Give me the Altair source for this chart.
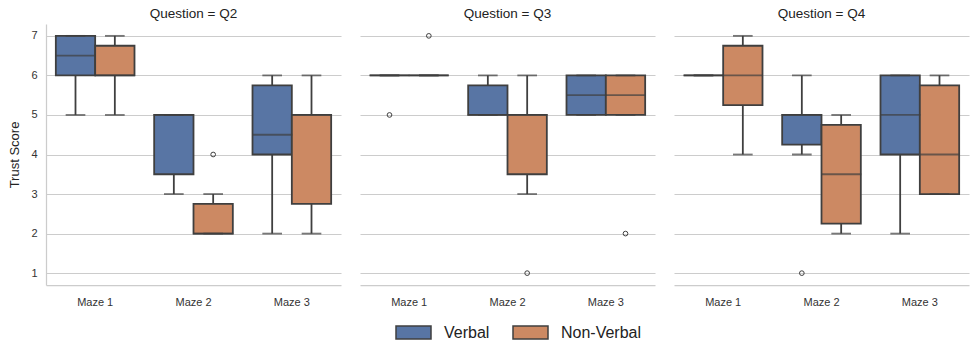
import altair as alt
import pandas as pd

# ---- data ----
questions = ["Q2"] * 6 + ["Q3"] * 6 + ["Q4"] * 6
mazes = ["Maze 1", "Maze 1", "Maze 2", "Maze 2", "Maze 3", "Maze 3"] * 3
groups = ["Verbal", "Non-Verbal"] * 9
q1 = [6, 6, 3.5, 2, 4, 2.75, 6, 6, 5, 3.5, 5, 5, 6, 5.25, 4.25, 2.25, 4, 3]
med = [6.5, 6, 5, 2, 4.5, 5, 6, 6, 5, 5, 5.5, 5.5, 6, 6, 5, 3.5, 5, 4]
q3 = [7, 6.75, 5, 2.75, 5.75, 5, 6, 6, 5.75, 5, 6, 6, 6, 6.75, 5, 4.75, 6, 5.75]
lo = [5, 5, 3, 2, 2, 2, 6, 6, 5, 3, 5, 5, 6, 4, 4, 2, 2, 3]
hi = [7, 7, 5, 3, 6, 6, 6, 6, 6, 6, 6, 6, 6, 7, 6, 5, 6, 6]
outlier = [None, None, None, 4, None, None, 5, 7, None, 1, None, 2,
           None, None, 1, None, None, None]

group_order = ["Verbal", "Non-Verbal"]
maze_order = ["Maze 1", "Maze 2", "Maze 3"]
yticks = [1, 2, 3, 4, 5, 6, 7]

df = pd.DataFrame({
    "question": questions, "maze": mazes, "group": groups,
    "q1": q1, "med": med, "q3": q3, "lo": lo, "hi": hi, "outlier": outlier,
})

BLUE = "#5875a4"
ORANGE = "#cc8963"
LINE = "#3f3f3f"
LW = 1.8
PW = 295
PH = 261
BOXW = PW / 3 * 0.4

x = alt.X("maze:N", sort=maze_order,
          scale=alt.Scale(paddingInner=0, paddingOuter=0),
          axis=alt.Axis(title=None, labelAngle=0, labelFontSize=11,
                        labelColor="#333333", labelPadding=11, ticks=False,
                        domainColor="#cccccc", domainWidth=1.25))
xo = alt.XOffset("group:N", sort=group_order,
                 scale=alt.Scale(domain=group_order, paddingInner=0,
                                 paddingOuter=0.25))
yscale = alt.Scale(domain=[0.7, 7.3], nice=False, zero=False)


def Y(field):
    return alt.Y(f"{field}:Q", scale=yscale, title="Trust Score",
                 axis=alt.Axis(values=yticks, grid=True, ticks=False,
                               labelFontSize=11, labelColor="#333333",
                               labelPadding=9, titleFontSize=13,
                               titleFontWeight="normal", titleColor="#222222",
                               titlePadding=9, domainColor="#cccccc",
                               domainWidth=1.25, gridColor="#cccccc",
                               gridWidth=1.1))


base = alt.Chart()

whisk_lo = base.mark_rule(color=LINE, strokeWidth=LW).encode(
    x=x, xOffset=xo, y=Y("lo"), y2="q1:Q")
whisk_hi = base.mark_rule(color=LINE, strokeWidth=LW).encode(
    x=x, xOffset=xo, y=Y("q3"), y2="hi:Q")
boxes = base.mark_bar(stroke=LINE, strokeWidth=LW, opacity=1).encode(
    x=x, xOffset=xo, y=Y("q1"), y2="q3:Q",
    color=alt.Color("group:N", sort=group_order,
                    scale=alt.Scale(domain=group_order, range=[BLUE, ORANGE]),
                    legend=alt.Legend(
                        title=None, orient="none", direction="horizontal",
                        legendX=349, legendY=290,
                        labelFontSize=16, labelColor="#222222",
                        symbolType="M-1,-0.37H1V0.37H-1Z", symbolSize=1225,
                        symbolStrokeColor=LINE, symbolStrokeWidth=1.5,
                        labelOffset=12, columnPadding=20)))
cap_lo = base.mark_tick(color=LINE, size=BOXW / 2, thickness=LW).encode(
    x=x, xOffset=xo, y=Y("lo"))
cap_hi = base.mark_tick(color=LINE, size=BOXW / 2, thickness=LW).encode(
    x=x, xOffset=xo, y=Y("hi"))
medians = base.mark_tick(color=LINE, size=BOXW + 1, thickness=LW).encode(
    x=x, xOffset=xo, y=Y("med"))
outs = base.mark_point(shape="circle", filled=False, color=LINE, size=22,
                       strokeWidth=1, opacity=1).encode(
    x=x, xOffset=xo, y=Y("outlier")).transform_filter(
    "isValid(datum.outlier)")

layer = alt.layer(whisk_lo, whisk_hi, boxes, cap_lo, cap_hi, medians, outs,
                  width=PW, height=PH)

chart = layer.facet(
    column=alt.Column("question:N", title=None,
                      header=alt.Header(labelExpr="'Question = ' + datum.value",
                                        labelFontSize=13.5, labelColor="#222222",
                                        labelPadding=4)),
    data=df,
    spacing=19,
).configure(font="Liberation Sans").configure_view(stroke=None).configure_axis(
    labelFont="Liberation Sans", titleFont="Liberation Sans"
).properties(padding={"left": 8, "right": 2, "top": 6, "bottom": 0})

chart.save("out.html", embed_options={"renderer": "svg", "actions": False})
